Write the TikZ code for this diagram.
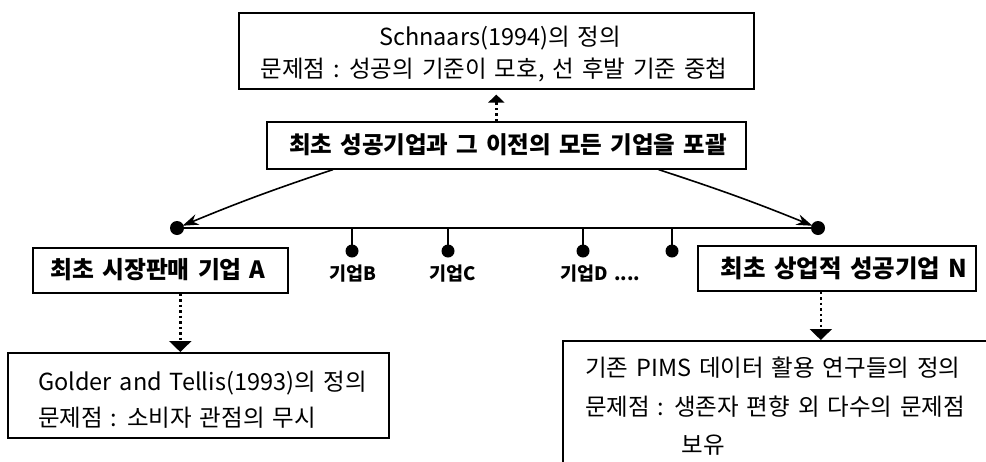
\documentclass[tikz,border=0pt]{standalone}
\usepackage{fontspec}
\usetikzlibrary{arrows.meta}
\newfontfamily\kr[WordSpace=1.5]{Noto Sans CJK KR}
\begin{document}
\begin{tikzpicture}[x=1pt,y=-1pt,
  box/.style={draw, line width=1.6pt, inner sep=0pt, anchor=north west},
  txt/.style={font=\kr\fontsize{23.5}{27}\selectfont, inner sep=0pt},
  btxt/.style={font=\kr\bfseries\fontsize{23.8}{27}\selectfont, inner sep=0pt},
  lbl/.style={font=\kr\bfseries\fontsize{18.5}{22}\selectfont, inner sep=0pt},
  dotarrow/.style={line width=2.6pt, dash pattern=on 2.5pt off 3pt,
    -{Triangle[length=11pt,width=22pt]}},
  curvarrow/.style={line width=1.6pt, -{Stealth[length=16pt,width=11pt]}},
  bus/.style={line width=2.6pt},
  tick/.style={line width=2.2pt}]
\useasboundingbox (0,0) rectangle (986,461);
\fill[white] (0,0) rectangle (986,461);
\clip (0,0) rectangle (986,461);

% top box
\node[box, minimum width=515pt, minimum height=76pt] (top) at (238,12) {};
\node[txt] (t1) at (500,38) {Schnaars(1994)의 정의};
\node[txt] (t2) at (494,70) {문제점 : 성공의 기준이 모호, 선 후발 기준 중첩};

% middle box
\node[box, minimum width=479pt, minimum height=47pt] (mid) at (266,121) {};
\node[btxt, font=\kr\bfseries\fontsize{23.5}{27}\selectfont] (mt) at (508,145) {최초 성공기업과 그 이전의 모든 기업을 포괄};

% up dotted arrow
\draw[dotarrow, -{Triangle[length=8pt,width=16pt]}, shorten >=5pt] (mid.north -| top.south) -- (top.south);

% bus line
\coordinate (L) at (177,228);
\coordinate (R) at (818,228);
\draw[bus] (L) -- (R);
\fill (L) circle[radius=7pt];
\fill (R) circle[radius=7pt];

% curved arrows
\draw[curvarrow, shorten >=6pt] ([xshift=67pt]mid.south west) to[bend right=2] (L);
\draw[curvarrow, shorten >=6pt] ([xshift=-88pt]mid.south east) to[bend left=2] (R);

% ticks
\foreach \n/\x in {b/352,c/448,d/583,e/672}{
  \coordinate (tk\n) at (\x,228);
  \coordinate (dt\n) at (\x,251);
  \draw[tick] (tk\n) -- (dt\n);
  \fill (dt\n) circle[radius=6.5pt];
}
\node[lbl] (lb) at (353,274) {기업B};
\node[lbl] (lc) at (453,274) {기업C};
\node[lbl, anchor=west] (ld) at (560,274) {기업D ....};

% box A
\node[box, minimum width=255pt, minimum height=45pt] (boxA) at (32,247) {};
\node[btxt] (at) at (158,270) {최초 시장판매 기업 A};

% box N
\node[box, minimum width=278pt, minimum height=45pt] (boxN) at (697,245) {};
\node[btxt, font=\kr\bfseries\fontsize{24.5}{27}\selectfont] (nt) at (844,268) {최초 상업적 성공기업 N};

% Golder box
\node[box, minimum width=381pt, minimum height=85pt] (gold) at (7,352) {};
\node[txt, anchor=west] (g1) at (38,383) {Golder and Tellis(1993)의 정의};
\node[txt, anchor=west] (g2) at (38,418) {문제점 : 소비자 관점의 무시};

% PIMS box (runs past the picture edges)
\node[box, minimum width=460pt, minimum height=150pt] (pims) at (562,340) {};
\node[txt, anchor=west] (p1) at (585,368) {기존 PIMS 데이터 활용 연구들의 정의};
\node[txt, anchor=west] (p2) at (585,407) {문제점 : 생존자 편향 외 다수의 문제점};
\node[txt] (p3) at (703,445) {보유};

% dotted down arrows
\coordinate (ax) at ([xshift=20pt]boxA.south);
\draw[dotarrow] (ax) -- (ax |- gold.north);
\coordinate (nx) at ([xshift=-16pt]boxN.south);
\draw[dotarrow] (nx) -- (nx |- pims.north);
\end{tikzpicture}
\end{document}
